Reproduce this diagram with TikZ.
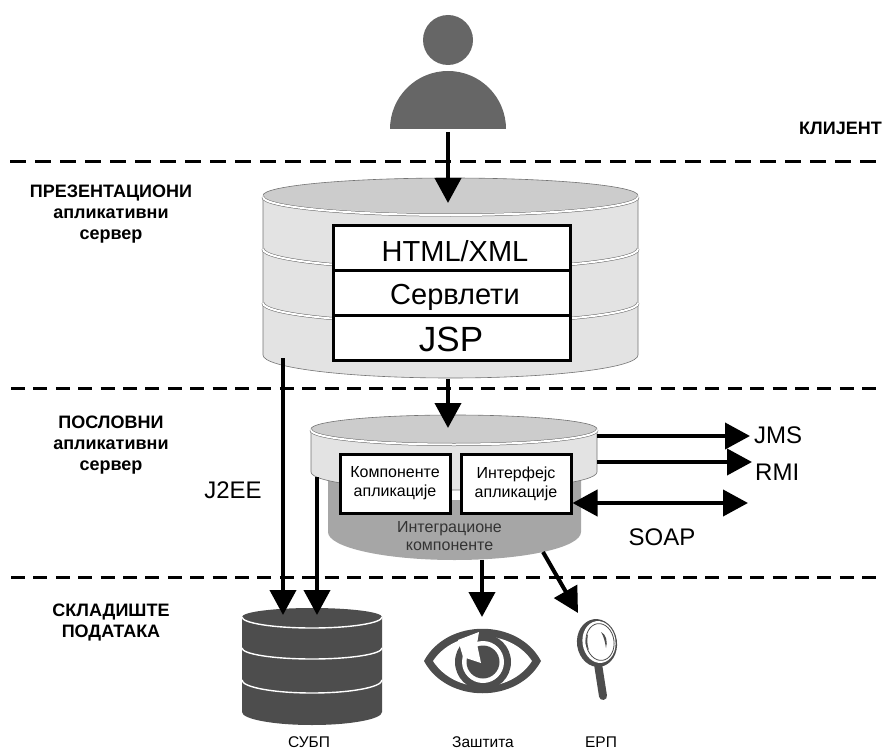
\documentclass[tikz,border=0pt]{standalone}
\usepackage{fontspec}
\setmainfont{Liberation Sans}
\usetikzlibrary{arrows.meta}
\definecolor{persongray}{HTML}{666666}
\definecolor{topgray}{HTML}{CCCCCC}
\definecolor{bodygray}{HTML}{E3E3E3}
\definecolor{darkbody}{HTML}{A6A6A6}
\definecolor{dbgray}{HTML}{4D4D4D}
\tikzset{
  sep/.style={line width=3pt,dash pattern=on 14pt off 8.4pt},
  flow/.style={line width=4pt,-{Triangle[length=25pt,width=26pt]}},
  biflow/.style={line width=4pt,{Triangle[length=25pt,width=26pt]}-{Triangle[length=25pt,width=26pt]}},
  txt/.style={inner sep=0pt,align=center,text=black},
  side/.style={txt,font=\fontsize{18}{21}\selectfont\bfseries},
  big/.style={txt,font=\fontsize{24}{26}\selectfont},
  captiontext/.style={txt,font=\fontsize{15.5}{17}\selectfont},
  stack/.style={draw=black,line width=3pt,fill=white,inner sep=0pt,minimum width=237pt},
  appbox/.style={draw=black,line width=3pt,fill=white,inner sep=0pt,minimum width=110pt,minimum height=59pt,align=center,font=\fontsize{16}{19}\selectfont},
  ring/.style={draw=white,line width=1.4pt},
  dring/.style={draw=black!60,line width=.5pt,double=white,double distance=2pt},
  edge/.style={draw=black!55,line width=.6pt}
}
\begin{document}
\begin{tikzpicture}[x=1pt,y=-1pt]
\useasboundingbox (0,0) rectangle (884,749);
% person
\fill[persongray] (448,40) circle[radius=25];
\fill[persongray] (390,129) arc[start angle=180,end angle=0,x radius=58,y radius=-58] -- cycle;
\coordinate (person) at (448,132);
% separators
\coordinate (s1a) at (10,162); \coordinate (s1b) at (884,162);
\coordinate (s2a) at (11,388); \coordinate (s2b) at (884,388);
\coordinate (s3a) at (11,577); \coordinate (s3b) at (884,577);
\draw[sep,dash pattern=on 16pt off 9pt] (s1a) -- (s1b);
\draw[sep] (s2a) -- (s2b);
\draw[sep] (s3a) -- (s3b);
% presentation cylinder
\path[fill=bodygray,edge] (263,197) -- (263,355) arc[start angle=180,end angle=360,x radius=187.5,y radius=-23] -- (638,197) -- cycle;
\draw[dring] (263,249) arc[start angle=180,end angle=360,x radius=187.5,y radius=-20];
\draw[dring] (263,303) arc[start angle=180,end angle=360,x radius=187.5,y radius=-20];
\path[fill=topgray] (450.5,195.5) ellipse[x radius=187.5,y radius=17.5];
\draw[dring] (263,197) arc[start angle=180,end angle=360,x radius=187.5,y radius=-18];
\draw[edge] (263,195.5) arc[start angle=180,end angle=0,x radius=187.5,y radius=-17.5];
\node[stack,minimum height=44.5pt] (html) at (451.5,248) {};
\node[stack,minimum height=45pt] (serv) at (451.5,292.5) {};
\node[stack,minimum height=45pt] (jsp) at (451.5,337.5) {};
\node[txt,font=\fontsize{29}{30}\selectfont] (htmlt) at (455,251) {HTML/XML};
\node[txt,font=\fontsize{29}{30}\selectfont] (servt) at (455,297) {Сервлети};
\node[txt,font=\fontsize{35}{36}\selectfont] (jspt) at (451,339) {JSP};
% business cylinder
\path[fill=darkbody] (328,460) -- (328,532) arc[start angle=180,end angle=360,x radius=126.5,y radius=-28] -- (581,460) -- cycle;
\fill[white] (440,490) rectangle (470,500);
\path[fill=bodygray,edge] (311,430) -- (311,472) arc[start angle=180,end angle=360,x radius=143,y radius=-18] -- (597,430) -- cycle;
\path[fill=topgray] (454,429) ellipse[x radius=143,y radius=14];
\draw[dring] (311,430) arc[start angle=180,end angle=360,x radius=143,y radius=-14.5];
\draw[edge] (311,429) arc[start angle=180,end angle=0,x radius=143,y radius=-14];
\node[appbox] (comp) at (395,483.5) {Компоненте\\апликације};
\node[appbox] (iface) at (516,483.5) {Интерфејс\\апликације};
\node[txt,font=\fontsize{16}{18}\selectfont,text=black!80] (integ) at (449.5,536) {Интеграционе\\компоненте};
% DB
\path[fill=dbgray] (242,617) -- (242,712) arc[start angle=180,end angle=360,x radius=70,y radius=-13] -- (382,617)
  arc[start angle=0,end angle=-180,x radius=70,y radius=9] -- cycle;
\draw[ring] (242,617) arc[start angle=180,end angle=360,x radius=70,y radius=-11];
\draw[ring] (242,648) arc[start angle=180,end angle=360,x radius=70,y radius=-11];
\draw[ring] (242,680) arc[start angle=180,end angle=360,x radius=70,y radius=-13];
\coordinate (dbt1) at (283,615); \coordinate (dbt2) at (317,615);
% eye
\fill[dbgray] (424,661) .. controls (447,618) and (518,618) .. (541,661) .. controls (518,704) and (447,704) .. (424,661) -- cycle;
\fill[white] (433,661) .. controls (455,628) and (510,628) .. (532,661) .. controls (510,695) and (455,695) .. (433,661) -- cycle;
\fill[dbgray] (483,662) circle[radius=28];
\fill[white] (483,662) circle[radius=21];
\fill[dbgray] (483,662) circle[radius=16.5];
\fill[white] (463,657) -- (481,663) -- (477,644) -- (479,632) -- (458,640) -- cycle;
\coordinate (eyet) at (482,617);
% magnifier
\draw[dbgray,line width=8pt,line cap=round] (598,664) -- (603,696);
\fill[dbgray,rotate around={8:(597,643)}] (597,643) ellipse[x radius=20,y radius=24];
\fill[white,rotate around={8:(599,642)}] (599,642) ellipse[x radius=16.5,y radius=21];
\draw[dbgray,line width=.8pt,rotate around={8:(600,642)}] (600,642) ellipse[x radius=14,y radius=18.5];
\fill[dbgray] (588,634) .. controls (584,640) and (585,646) .. (589,650) .. controls (587,645) and (587,640) .. (588,634) -- cycle;
\fill[dbgray] (601,632) .. controls (606,634) and (608,642) .. (606,648) .. controls (605,642) and (604,637) .. (601,632) -- cycle;
\coordinate (magt) at (578,613);
% arrows
\draw[flow] (person) -- (448,203);
\draw[flow] (448,379) -- (448,428);
\draw[flow] (283,358) -- (dbt1);
\draw[flow] (317,477) -- (dbt2);
\draw[flow] (482,560) -- (eyet);
\draw[flow] (543,552) -- (magt);
\draw[flow] (597,436) -- (750,436);
\draw[flow] (597,462) -- (752,462);
\draw[biflow] (iface.east |- 0,503) -- (748,503);
% labels
\node[big,anchor=west] (jms) at (754,435) {JMS};
\node[big,anchor=west] (rmi) at (755,472) {RMI};
\node[big] (soap) at (662,537) {SOAP};
\node[big] (j2ee) at (233,490) {J2EE};
\node[side,anchor=east] (kl) at (882,128) {КЛИЈЕНТ};
\node[side] (pr) at (111,214) {ПРЕЗЕНТАЦИОНИ\\апликативни\\сервер};
\node[side] (po) at (111,445) {ПОСЛОВНИ\\апликативни\\сервер};
\node[side] (sk) at (111,623) {СКЛАДИШТЕ\\ПОДАТАКА};
\node[captiontext] (l1) at (309,742) {СУБП};
\node[captiontext] (l2) at (483,742) {Заштита};
\node[captiontext] (l3) at (601,742) {ЕРП};
\end{tikzpicture}
\end{document}
